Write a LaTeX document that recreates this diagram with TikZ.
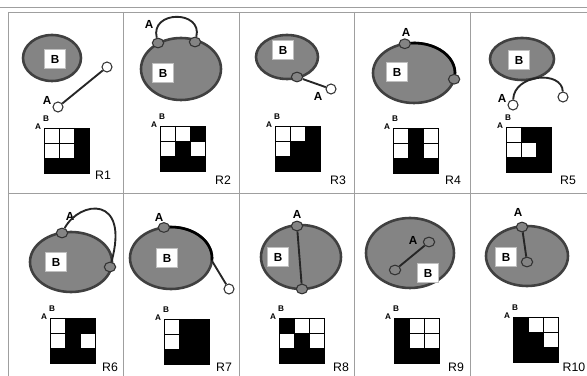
\documentclass[tikz,border=0pt]{standalone}
\usepackage{fontspec}
\setmainfont{Liberation Sans}
\usetikzlibrary{shapes.geometric, calc}

\definecolor{blobfill}{RGB}{132,132,132}

\begin{document}
\begin{tikzpicture}[
                x=0.03cm, y=-0.03cm, % one unit per pixel, y downwards
                region/.style 2 args={ellipse, draw=black!75, line width=2.2pt, fill=blobfill, inner sep=0pt, outer sep=0pt, minimum width={#1*0.06cm}, minimum height={#2*0.06cm}},
                bbox/.style={rectangle, fill=white, draw=gray!50, line width=0.3pt, minimum width=0.62cm, minimum height=0.58cm, inner sep=0pt, font=\bfseries\fontsize{10}{10}\selectfont},
                touch/.style={ellipse, draw=black!80, line width=0.9pt, fill=blobfill, minimum width=0.34cm, minimum height=0.29cm, inner sep=0pt},
                free/.style={circle, draw=black!80, line width=0.9pt, fill=white, minimum size=0.3cm, inner sep=0pt},
                lab/.style={font=\bfseries\fontsize{10}{10}\selectfont, inner sep=0pt},
                tiny/.style={font=\bfseries\fontsize{7}{7}\selectfont, inner sep=0pt},
                rname/.style={font=\fontsize{10.5}{10.5}\selectfont, inner sep=0pt},
                line/.style={draw=black!85, line width=1.6pt},
                edge/.style={draw=black, line width=2.2pt},
                cellgrid/.style={draw=black, line width=0.7pt},
                frame/.style={draw=gray!75, line width=0.6pt}
            ]
                \useasboundingbox (0,0) rectangle (587,376);

                % Table lines
                \draw[frame] (0,7) -- (587,7);
                \draw[frame] (8,12) -- (587,12);
                \draw[frame] (8,193) -- (587,193);
                \foreach \vx in {8,123,239,354,470}
                    \draw[frame] (\vx,12) -- (\vx,376);

                % R1
                \node[region={29}{23}] (e1) at (52,58) {};
                \node[bbox] (b1) at (55,59) {B};
                \node[free] (c1a) at (58,107) {};
                \node[free] (c1b) at (107,67) {};
                \node[lab] (a1) at (47,100) {A};
                \draw[line] (c1a) -- (c1b);

                % R2
                \node[region={40}{31}] (e2) at (181,69) {};
                \node[bbox] (b2) at (163,73) {B};
                \node[touch] (c2a) at (158,43) {};
                \node[touch] (c2b) at (195,42) {};
                \node[lab] (a2) at (149,24) {A};
                \draw[line] (c2a) .. controls (150,10) and (203,10) .. (c2b);

                % R3
                \node[region={31}{22}] (e3) at (287,57) {};
                \node[bbox] (b3) at (283,50) {B};
                \node[touch] (c3a) at (297,77) {};
                \node[free] (c3b) at (331,89) {};
                \node[lab] (a3) at (318,96) {A};
                \draw[line] (c3a) -- (c3b);

                % R4
                \node[region={41}{30}] (e4) at (414,73) {};
                \node[bbox] (b4) at (397,72) {B};
                \coordinate (p4a) at ($(e4)+(-103:41 and 30)$);
                \coordinate (p4b) at ($(e4)+(12:41 and 30)$);
                \draw[edge] (p4a) arc[start angle=-103, end angle=12, x radius=41, y radius=30];
                \node[touch] (c4a) at (p4a) {};
                \node[touch] (c4b) at (p4b) {};
                \node[lab] (a4) at (406,32) {A};

                % R5
                \node[region={32}{21}] (e5) at (522,59) {};
                \node[bbox] (b5) at (519,60) {B};
                \node[free] (c5a) at (513,105) {};
                \node[free] (c5b) at (563,97) {};
                \node[lab] (a5) at (502,98) {A};
                \draw[line] (c5a) .. controls (514,74) and (562,70) .. (c5b);

                % R6
                \node[region={41}{30}] (e6) at (71,262) {};
                \node[bbox] (b6) at (56,262) {B};
                \node[touch] (c6a) at (62,233) {};
                \node[touch] (c6b) at (110,267) {};
                \node[lab] (a6) at (70,216) {A};
                \draw[line] (c6a) .. controls (80,200) and (130,195) .. (c6b);

                % R7
                \node[region={41}{31}] (e7) at (171,258) {};
                \node[bbox] (b7) at (167,258) {B};
                \node[free] (c7b) at (229,289) {};
                \coordinate (p7a) at ($(e7)+(-100:41 and 31)$);
                \coordinate (p7b) at ($(e7)+(5:41 and 31)$);
                \draw[edge] (p7a) arc[start angle=-100, end angle=5, x radius=41, y radius=31];
                \draw[line] (p7b) -- (c7b);
                \node[touch] (c7a) at (p7a) {};
                \node[lab] (a7) at (159,217) {A};

                % R8
                \node[region={40}{32}] (e8) at (301,257) {};
                \node[bbox] (b8) at (278,257) {B};
                \node[touch] (c8a) at (297,226) {};
                \node[touch] (c8b) at (302,289) {};
                \node[lab] (a8) at (297,214) {A};
                \draw[line] (c8a) -- (c8b);

                % R9
                \node[region={44}{35}] (e9) at (410,253) {};
                \node[bbox] (b9) at (428,273) {B};
                \node[touch] (c9a) at (395,270) {};
                \node[touch] (c9b) at (429,242) {};
                \node[lab] (a9) at (413,240) {A};
                \draw[line] (c9a) -- (c9b);

                % R10
                \node[region={41}{30}] (e10) at (527,256) {};
                \node[bbox] (b10) at (506,257) {B};
                \node[touch] (c10a) at (522,227) {};
                \node[touch] (c10b) at (527,262) {};
                \node[lab] (a10) at (518,212) {A};
                \draw[line] (c10a) -- (c10b);

                % Matrices: number / corner / label / black cells (col/row)
                \foreach \n/\gx/\gy/\rx/\ry/\cells in {
                    1/44/128/103/175/{2/0,2/1,0/2,1/2,2/2},
                    2/160/126/223/180/{2/0,1/1,0/2,1/2,2/2},
                    3/275/126/338/180/{2/0,1/1,2/1,0/2,1/2,2/2},
                    4/393/128/453/180/{1/0,1/1,0/2,1/2,2/2},
                    5/506/127/568/180/{1/0,2/0,2/1,0/2,1/2,2/2},
                    6/50/318/110/367/{1/0,2/0,1/1,0/2,1/2,2/2},
                    7/164/319/224/367/{1/0,2/0,1/1,2/1,0/2,1/2,2/2},
                    8/279/318/341/367/{0/0,1/1,0/2,1/2,2/2},
                    9/394/318/456/367/{0/0,0/1,0/2,1/2,2/2},
                    10/513/317/574/367/{0/0,0/1,1/1,0/2,1/2,2/2}}
                {
                    \begin{scope}[shift={(\gx,\gy)}]
                        \foreach \cx/\cy in \cells
                            \fill (15*\cx,15*\cy) rectangle ++(15,15);
                        \draw[cellgrid] (0,0) rectangle (45,45) (15,0) -- (15,45) (30,0) -- (30,45) (0,15) -- (45,15) (0,30) -- (45,30);
                        \node[tiny] (ma\n) at (-6,-1) {A};
                        \node[tiny] (mb\n) at (2,-9) {B};
                    \end{scope}
                    \node[rname] (r\n) at (\rx,\ry) {R\n};
                }
            \end{tikzpicture}
\end{document}
